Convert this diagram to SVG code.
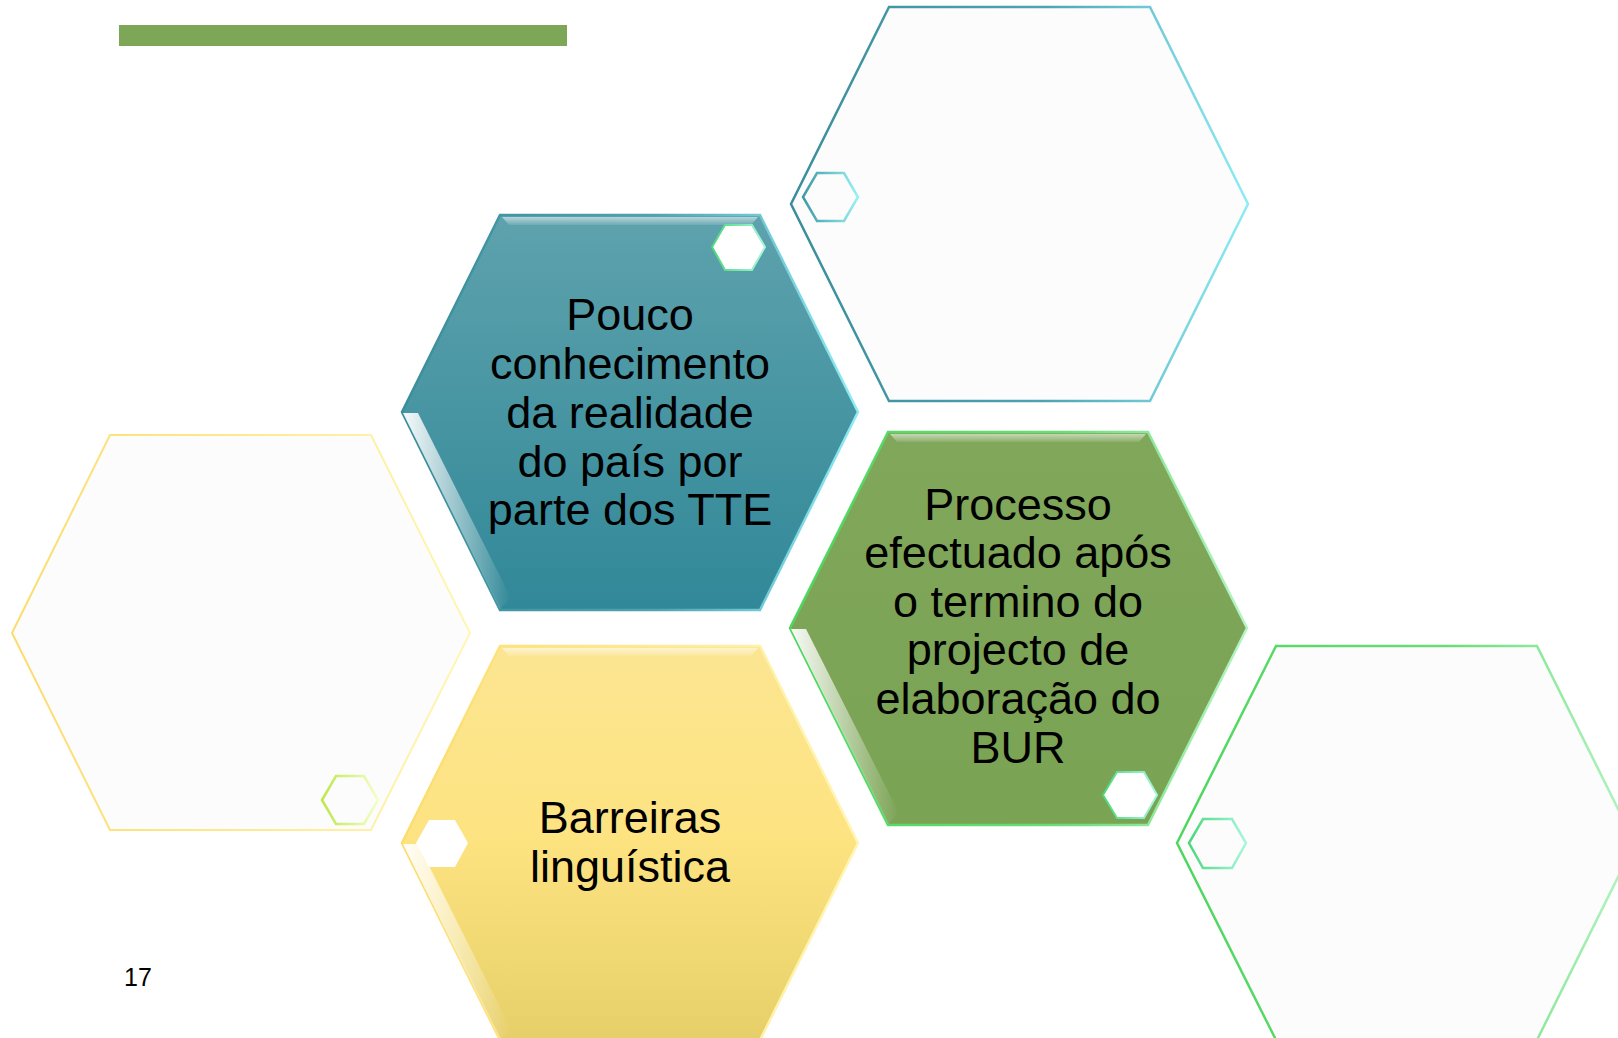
<svg xmlns="http://www.w3.org/2000/svg" width="1618" height="1038" viewBox="0 0 1618 1038">
<defs>
<linearGradient id="gBlue" x1="0" y1="0" x2="0" y2="1"><stop offset="0" stop-color="#5EA2AD"/><stop offset="1" stop-color="#318898"/></linearGradient>
<linearGradient id="gGreen" x1="0" y1="0" x2="0" y2="1"><stop offset="0" stop-color="#80A75A"/><stop offset="1" stop-color="#7BA354"/></linearGradient>
<linearGradient id="gYellow" x1="0" y1="0" x2="0" y2="1"><stop offset="0" stop-color="#FCE592"/><stop offset="0.5" stop-color="#FDE380"/><stop offset="1" stop-color="#E6CF68"/></linearGradient>
<linearGradient id="sBlue" x1="0" y1="0" x2="1" y2="0"><stop offset="0" stop-color="#3A8E9B"/><stop offset="0.55" stop-color="#4FA3B0"/><stop offset="1" stop-color="#8EECF4"/></linearGradient>
<linearGradient id="sGreen" x1="0" y1="0" x2="1" y2="0"><stop offset="0" stop-color="#4FD65E"/><stop offset="0.6" stop-color="#6BDD78"/><stop offset="1" stop-color="#B4F5C4"/></linearGradient>
<linearGradient id="sYellow" x1="0" y1="0" x2="1" y2="0"><stop offset="0" stop-color="#FCDC6E"/><stop offset="1" stop-color="#FFF6B5"/></linearGradient>
<linearGradient id="sSmallTeal" x1="0" y1="0" x2="1" y2="0"><stop offset="0" stop-color="#3E9AA4"/><stop offset="1" stop-color="#9AF0F2"/></linearGradient>
<linearGradient id="sSmallLime" x1="0" y1="0" x2="1" y2="0"><stop offset="0" stop-color="#BCE84A"/><stop offset="1" stop-color="#F4FFC8"/></linearGradient>
<linearGradient id="sSmallMint" x1="0" y1="0" x2="1" y2="0"><stop offset="0" stop-color="#4CD77A"/><stop offset="1" stop-color="#A8F6DE"/></linearGradient>
<linearGradient id="bevelL" x1="0" y1="0" x2="1" y2="0"><stop offset="0" stop-color="#FFFFFF" stop-opacity="0.95"/><stop offset="1" stop-color="#FFFFFF" stop-opacity="0"/></linearGradient>
<linearGradient id="bevelT" x1="0" y1="0" x2="0" y2="1"><stop offset="0" stop-color="#FFFFFF" stop-opacity="0.55"/><stop offset="1" stop-color="#FFFFFF" stop-opacity="0.1"/></linearGradient>
</defs>
<style>
.lbl{font-family:"Liberation Sans",Arial,sans-serif;font-size:45px;fill:#000;text-anchor:middle}
.pg{font-family:"Liberation Sans",Arial,sans-serif;font-size:25px;fill:#000}
.ghost{fill:#FCFCFC}
</style>
<rect width="1618" height="1038" fill="#FFFFFF"/>
<rect id="bar" x="119" y="25" width="448" height="21" fill="#7EA657"/>

<g id="hex-top-right">
<polygon class="ghost" points="889,7 1150,7 1248,204 1150,401 889,401 791,204" stroke="url(#sBlue)" stroke-width="2.5"/>
<polygon points="817,173 844,173 858,197 844,221 817,221 803,197" fill="none" stroke="url(#sSmallTeal)" stroke-width="2.5"/>
</g>

<g id="hex-left">
<polygon class="ghost" points="110,435 371,435 470,633 371,830 110,830 12,633" stroke="url(#sYellow)" stroke-width="2"/>
<polygon points="336,776 364,776 378,800 364,824 336,824 322,800" fill="none" stroke="url(#sSmallLime)" stroke-width="2.5"/>
</g>

<g id="hex-bottom-right">
<polygon class="ghost" points="1276,646 1537,646 1635,843 1537,1040 1276,1040 1177,843" stroke="url(#sGreen)" stroke-width="2.5"/>
<polygon points="1203,819 1232,819 1246,843 1232,868 1203,868 1189,843" fill="none" stroke="url(#sSmallMint)" stroke-width="2.5"/>
</g>

<g id="hex-blue">
<polygon points="500,215 760,215 858,412 760,610 500,610 402,412" fill="url(#gBlue)" stroke="url(#sBlue)" stroke-width="2.5"/>
<polygon points="502,217 758,217 751,225 509,225" fill="url(#bevelT)"/>
<polygon points="403,413 418,413 511,598 500,609" fill="url(#bevelL)"/>
<polygon points="725,225 752,225 765,247 752,270 725,270 712,247" fill="#FFFFFF" stroke="url(#sSmallMint)" stroke-width="2"/>
<text class="lbl" x="630" y="330">Pouco</text>
<text class="lbl" x="630" y="379">conhecimento</text>
<text class="lbl" x="630" y="428">da realidade</text>
<text class="lbl" x="630" y="477">do país por</text>
<text class="lbl" x="630" y="525">parte dos TTE</text>
</g>

<g id="hex-green">
<polygon points="888,432 1148,432 1247,628 1148,825 888,825 790,628" fill="url(#gGreen)" stroke="url(#sGreen)" stroke-width="2.5"/>
<polygon points="890,434 1146,434 1139,442 897,442" fill="url(#bevelT)"/>
<polygon points="791,629 806,629 899,813 888,824" fill="url(#bevelL)"/>
<polygon points="1117,772 1144,772 1157,795 1144,818 1117,818 1103,795" fill="#FFFFFF" stroke="url(#sSmallMint)" stroke-width="2"/>
<text class="lbl" x="1018" y="520">Processo</text>
<text class="lbl" x="1018" y="568">efectuado após</text>
<text class="lbl" x="1018" y="617">o termino do</text>
<text class="lbl" x="1018" y="665">projecto de</text>
<text class="lbl" x="1018" y="714">elaboração do</text>
<text class="lbl" x="1018" y="763">BUR</text>
</g>

<g id="hex-yellow">
<polygon points="500,646 760,646 858,843 760,1040 500,1040 402,843" fill="url(#gYellow)" stroke="url(#sYellow)" stroke-width="2.5"/>
<polygon points="502,648 758,648 751,656 509,656" fill="url(#bevelT)"/>
<polygon points="403,844 418,844 511,1029 500,1040" fill="url(#bevelL)"/>
<polygon points="429,820 455,820 468,843 455,867 429,867 416,843" fill="#FFFFFF"/>
<text class="lbl" x="630" y="833">Barreiras</text>
<text class="lbl" x="630" y="882">linguística</text>
</g>

<g id="connectors"></g>

<text class="pg" x="124" y="986">17</text>
</svg>
